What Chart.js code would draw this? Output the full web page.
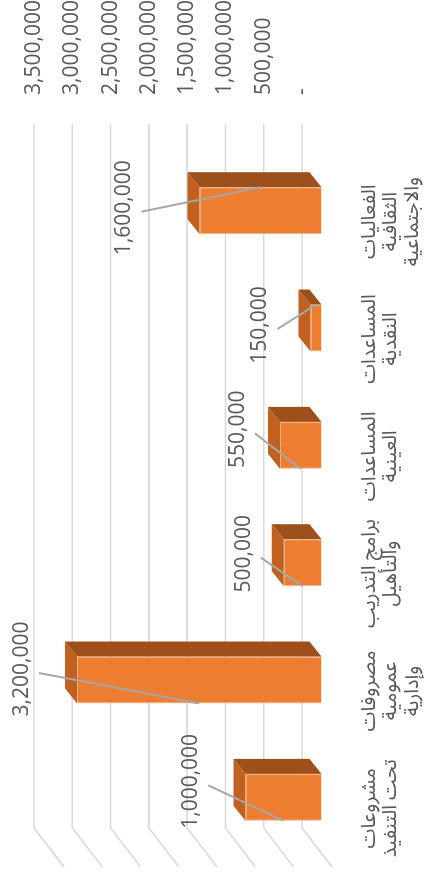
<!DOCTYPE html>
<html><head><meta charset="utf-8">
<script src="https://cdn.jsdelivr.net/npm/chart.js@4/dist/chart.umd.min.js"></script>
<style>
html,body{margin:0;padding:0;background:#fff;overflow:hidden;width:429px;height:876px;}
#wrap{position:absolute;left:0;top:0;width:876px;height:429px;transform-origin:0 0;transform:translate(0,876px) rotate(-90deg);}
</style></head><body>
<div id="wrap"><canvas id="c" width="876" height="429"></canvas></div>
<script>
// ---- data ----
const categories = [
  ["مشروعات", "تحت التنفيذ"],
  ["مصروفات", "عمومية", "وإدارية"],
  ["برامج التدريب", "والتأهيل"],
  ["المساعدات", "العينية"],
  ["المساعدات", "النقدية"],
  ["الفعاليات", "الثقافية", "والاجتماعية"]
];
const values = [1000000, 3200000, 500000, 550000, 150000, 1600000];
const valueTicks = [0, 500000, 1000000, 1500000, 2000000, 2500000, 3000000, 3500000];

// ---- layout nudges for the manually placed data labels (px, unrotated) ----
const labelNudgeX = [16, 11, 9, 16, 3, 3];
const labelNudgeY = [-54, -55, -40, -42, -50, -75];
const leaderSide = [-1, -1, -1, -1, 1, 1];

const NUM_FONT = '"Open Sans", "Liberation Sans", sans-serif';
const AR_FONT = '"Noto Sans Arabic", "DejaVu Sans", sans-serif';
const TEXT = '#595959';

const barDepth = {dx: 15, dy: -12};
const wall = {dx: 28, dy: -20, sideDx: -39, sideDy: 30};

const fmt = v => v === 0 ? '-' : v.toLocaleString('en-US');

function poly(ctx, pts) {
  ctx.beginPath();
  ctx.moveTo(pts[0][0], pts[0][1]);
  for (let i = 1; i < pts.length; i++) ctx.lineTo(pts[i][0], pts[i][1]);
  ctx.closePath();
  ctx.fill();
}

const wallPlugin = {
  id: 'wall',
  beforeDatasetsDraw(chart) {
    const {ctx, chartArea, scales} = chart;
    const ys = scales.y;
    ctx.save();
    ctx.strokeStyle = '#D9D9D9';
    ctx.lineWidth = 1.6;
    valueTicks.forEach(v => {
      const y = ys.getPixelForValue(v) + wall.dy;
      const x0 = chartArea.left + wall.dx, x1 = chartArea.right + wall.dx;
      ctx.beginPath();
      ctx.moveTo(x0 + wall.sideDx, y + wall.sideDy);
      ctx.lineTo(x0, y);
      ctx.lineTo(x1, y);
      ctx.stroke();
    });
    ctx.restore();
  }
};

const bar3dPlugin = {
  id: 'bar3d',
  afterDatasetsDraw(chart) {
    const {ctx} = chart;
    const meta = chart.getDatasetMeta(0);
    ctx.save();
    meta.data.forEach((bar, i) => {
      const p = bar.getProps(['x', 'y', 'base', 'width'], true);
      const l = p.x - p.width / 2, r = p.x + p.width / 2;
      const dx = barDepth.dx, dy = barDepth.dy;
      ctx.fillStyle = '#C2611F';
      poly(ctx, [[l, p.y], [r, p.y], [r + dx, p.y + dy], [l + dx, p.y + dy]]);
      ctx.fillStyle = '#9E501C';
      poly(ctx, [[r, p.y], [r + dx, p.y + dy], [r + dx, p.base + dy], [r, p.base]]);
    });
    // data labels with leader lines
    meta.data.forEach((bar, i) => {
      const p = bar.getProps(['x', 'y', 'base', 'width'], true);
      const lx = p.x + labelNudgeX[i], ly = p.y + labelNudgeY[i];
      const ex = p.x + leaderSide[i] * p.width / 2, ey = (p.y + p.base) / 2;
      ctx.strokeStyle = '#A6A6A6';
      ctx.lineWidth = 2;
      ctx.beginPath();
      ctx.moveTo(lx - 4, ly + 17);
      ctx.lineTo(ex, ey);
      ctx.stroke();
      ctx.fillStyle = TEXT;
      ctx.font = '21px ' + NUM_FONT;
      ctx.textAlign = 'center';
      ctx.textBaseline = 'middle';
      ctx.fillText(fmt(values[i]), lx, ly);
    });
    ctx.restore();
  }
};

new Chart(document.getElementById('c'), {
  type: 'bar',
  data: {
    labels: categories,
    datasets: [{
      data: values,
      backgroundColor: '#ED7D31',
      borderColor: '#F4B183',
      borderWidth: 1,
      barPercentage: 0.4,
      categoryPercentage: 1
    }]
  },
  options: {
    responsive: false,
    devicePixelRatio: 1,
    animation: false,
    layout: {padding: {top: 54, left: 20, right: 0, bottom: 0}},
    plugins: {legend: {display: false}, tooltip: {enabled: false}},
    scales: {
      x: {
        position: 'bottom',
        grid: {display: true, color: 'transparent', drawOnChartArea: false, drawTicks: true, tickLength: 39},
        border: {display: false},
        ticks: {
          autoSkip: false, maxRotation: 0, minRotation: 0,
          padding: 0, labelOffset: -11,
          color: TEXT,
          font: {family: AR_FONT, size: 20, lineHeight: 1.08}
        },
        afterFit(s) { s.height = 107; }
      },
      y: {
        position: 'right',
        min: 0, max: 3500000,
        grid: {display: true, color: 'transparent', drawOnChartArea: false, drawTicks: true, tickLength: 57},
        border: {display: false},
        afterBuildTicks(s) { s.ticks = valueTicks.map(v => ({value: v})); },
        ticks: {
          padding: 0, labelOffset: -20,
          color: TEXT,
          font: {family: NUM_FONT, size: 21},
          callback: v => fmt(v)
        },
        afterFit(s) { s.width = 152; }
      }
    }
  },
  plugins: [wallPlugin, bar3dPlugin]
});
</script>
</body></html>
